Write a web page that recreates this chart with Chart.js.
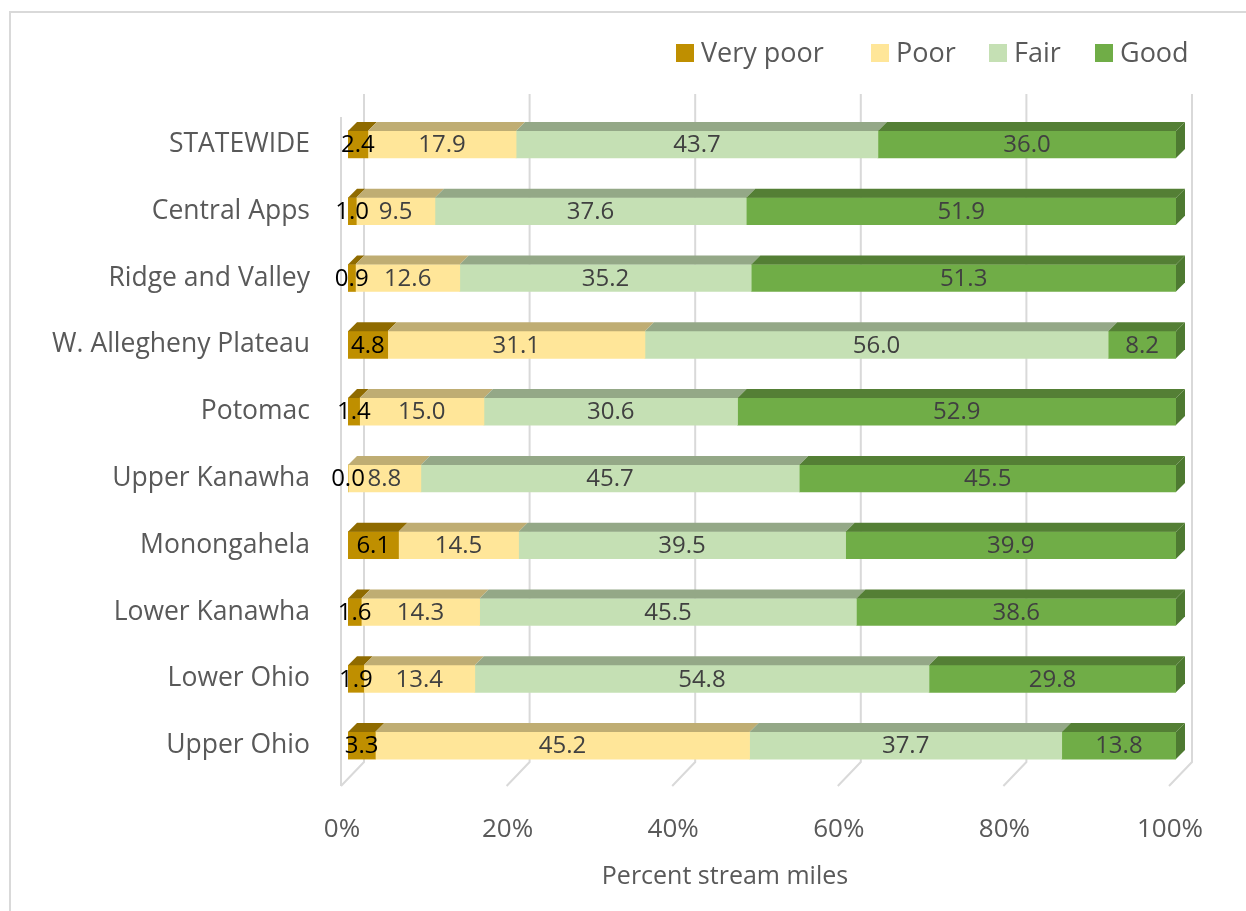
<!DOCTYPE html>
<html>
<head>
<meta charset="utf-8">
<script src="https://cdn.jsdelivr.net/npm/chart.js@4/dist/chart.umd.min.js"></script>
<style>
  html, body { margin: 0; padding: 0; background: #fff; }
  #wrap { width: 1246px; height: 911px; position: relative; }
</style>
</head>
<body>
<div id="wrap"><canvas id="chart" width="1246" height="911"></canvas></div>
<script>
// data
const regions = ['STATEWIDE', 'Central Apps', 'Ridge and Valley', 'W. Allegheny Plateau', 'Potomac',
  'Upper Kanawha', 'Monongahela', 'Lower Kanawha', 'Lower Ohio', 'Upper Ohio'];
const veryPoor = [2.4, 1.0, 0.9, 4.8, 1.4, 0.0, 6.1, 1.6, 1.9, 3.3];
const poor     = [17.9, 9.5, 12.6, 31.1, 15.0, 8.8, 14.5, 14.3, 13.4, 45.2];
const fair     = [43.7, 37.6, 35.2, 56.0, 30.6, 45.7, 39.5, 45.5, 54.8, 37.7];
const good     = [36.0, 51.9, 51.3, 8.2, 52.9, 45.5, 39.9, 38.6, 29.8, 13.8];
const xTicks = [0, 20, 40, 60, 80, 100];
const xTitle = 'Percent stream miles';

const FONT = '"Open Sans", "Liberation Sans", sans-serif';
const DX = 9, DY = 9; // 3d depth of the bars

// 100% stacked like excel: each row scaled to its total
const totals = regions.map((r, i) => veryPoor[i] + poor[i] + fair[i] + good[i]);
const pct = arr => arr.map((v, i) => v / totals[i] * 100);

const series = [
  { label: 'Very poor', raw: veryPoor, color: '#BF8F00', top: '#8F6B00', text: '#000000' },
  { label: 'Poor', raw: poor, color: '#FFE699', top: '#BFAD73', text: '#404040' },
  { label: 'Fair', raw: fair, color: '#C5E0B4', top: '#94A887', text: '#404040' },
  { label: 'Good', raw: good, color: '#70AD47', top: '#547F35', side: '#4E7A31', text: '#404040' }
];
const legendX = [676, 871, 989, 1095];

// back wall + floor grid, 3d faces, value labels, legend and axis title
const grid3d = {
  id: 'grid3d',
  beforeDraw(chart) {
    const c = chart.ctx;
    c.save();
    c.strokeStyle = '#d9d9d9';
    c.lineWidth = 2;
    c.beginPath();
    c.moveTo(10, 911); c.lineTo(10, 12); c.lineTo(1246, 12);
    c.stroke();
    c.restore();
  },
  beforeDatasetsDraw(chart) {
    const c = chart.ctx, a = chart.chartArea, x = chart.scales.x;
    const backTop = a.top - 17, backBot = a.bottom - 17, frontBot = a.bottom + 7;
    c.save();
    c.strokeStyle = '#d9d9d9';
    c.lineWidth = 2;
    xTicks.forEach(v => {
      const px = x.getPixelForValue(v);
      c.beginPath();
      c.moveTo(px + 16, backTop);
      c.lineTo(px + 16, backBot);
      c.lineTo(px - 7, frontBot);
      c.stroke();
    });
    // left wall front edge
    const p0 = x.getPixelForValue(0);
    c.beginPath();
    c.moveTo(p0 - 7, a.top + 6);
    c.lineTo(p0 - 7, frontBot);
    c.stroke();
    c.restore();
  },
  afterDatasetsDraw(chart) {
    const c = chart.ctx;
    c.save();
    chart.data.datasets.forEach((ds, di) => {
      const meta = chart.getDatasetMeta(di);
      meta.data.forEach((bar, i) => {
        const { x, y, base, height } = bar.getProps(['x', 'y', 'base', 'height'], true);
        if (x - base < 0.5) return;
        const top = y - height / 2, bot = y + height / 2;
        c.fillStyle = series[di].top;
        c.beginPath();
        c.moveTo(base, top); c.lineTo(x, top);
        c.lineTo(x + DX, top - DY); c.lineTo(base + DX, top - DY);
        c.closePath(); c.fill();
        if (series[di].side) {
          c.fillStyle = series[di].side;
          c.beginPath();
          c.moveTo(x, top); c.lineTo(x + DX, top - DY);
          c.lineTo(x + DX, bot - DY); c.lineTo(x, bot);
          c.closePath(); c.fill();
        }
      });
    });
    // value labels
    c.font = '24px ' + FONT;
    c.textAlign = 'center';
    c.textBaseline = 'middle';
    chart.data.datasets.forEach((ds, di) => {
      const meta = chart.getDatasetMeta(di);
      meta.data.forEach((bar, i) => {
        const { x, y, base } = bar.getProps(['x', 'y', 'base'], true);
        c.fillStyle = series[di].text;
        c.fillText(series[di].raw[i].toFixed(1), (x + base) / 2, y + 1);
      });
    });
    c.restore();
  },
  afterDraw(chart) {
    const c = chart.ctx;
    c.save();
    // legend
    c.font = '27px ' + FONT;
    c.textBaseline = 'middle';
    c.textAlign = 'left';
    series.forEach((s, i) => {
      c.fillStyle = s.color;
      c.fillRect(legendX[i], 44, 18, 18);
      c.fillStyle = '#595959';
      c.fillText(s.label, legendX[i] + 25, 54);
    });
    // axis title (excel centres it a bit left of the plot)
    c.font = '25px ' + FONT;
    c.textAlign = 'center';
    c.fillText(xTitle, 725, 877);
    c.restore();
  }
};

new Chart(document.getElementById('chart'), {
  type: 'bar',
  data: {
    labels: regions,
    datasets: series.map(s => ({
      label: s.label,
      data: pct(s.raw),
      backgroundColor: s.color,
      borderWidth: 0,
      barThickness: 27
    }))
  },
  options: {
    indexAxis: 'y',
    responsive: false,
    animation: false,
    layout: { padding: { top: 111, right: 70, bottom: 0, left: 20 } },
    plugins: {
      legend: { display: false },
      tooltip: { enabled: false }
    },
    scales: {
      x: {
        stacked: true,
        min: 0,
        max: 100,
        grid: { display: false },
        border: { display: false },
        afterFit: s => { s.height = 132; },
        ticks: {
          stepSize: 20,
          labelOffset: -6,
          padding: 27,
          color: '#595959',
          font: { size: 26, family: FONT },
          callback: v => v + '%'
        }
      },
      y: {
        stacked: true,
        grid: { display: false },
        border: { display: false },
        afterFit: s => { s.width = 328; },
        ticks: {
          padding: 30,
          color: '#595959',
          font: { size: 26.5, family: FONT }
        }
      }
    }
  },
  plugins: [grid3d]
});
</script>
</body>
</html>
